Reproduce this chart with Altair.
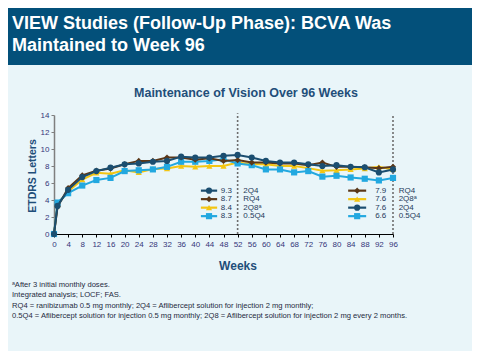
import altair as alt
import pandas as pd

# ---------------- data ----------------
weeks = [0, 1, 4, 8, 12, 16, 20, 24, 28, 32, 36, 40, 44, 48, 52,
         56, 60, 64, 68, 72, 76, 80, 84, 88, 92, 96]
val_2q4 = [0, 3.3, 5.2, 6.7, 7.4, 7.8, 8.2, 8.3, 8.5, 8.6, 9.1, 9.0, 9.0, 9.2, 9.3,
           9.0, 8.6, 8.4, 8.4, 8.2, 8.0, 8.1, 7.9, 7.85, 7.25, 7.6]
val_rq4 = [0, 3.2, 5.4, 6.9, 7.45, 7.7, 8.2, 8.6, 8.6, 9.0, 9.0, 8.75, 8.9, 8.6, 8.7,
           8.4, 8.4, 8.3, 8.3, 8.1, 8.4, 7.9, 7.9, 7.85, 7.75, 7.9]
val_2q8 = [0, 3.5, 5.0, 6.4, 7.2, 7.1, 7.5, 7.25, 7.65, 7.7, 8.0, 7.9, 8.0, 8.0, 8.4,
           8.2, 8.2, 8.0, 8.0, 7.75, 7.45, 7.5, 7.6, 7.7, 7.9, 7.6]
val_05q4 = [0, 3.7, 4.8, 5.7, 6.35, 6.6, 7.4, 7.5, 7.6, 7.9, 8.5, 8.5, 8.6, 8.8, 8.3,
            8.1, 7.6, 7.6, 7.25, 7.4, 6.75, 6.85, 6.65, 6.5, 6.3, 6.6]

series_names = ["2Q4", "RQ4", "2Q8", "0.5Q4"]
series_labels = ["2Q4", "RQ4", "2Q8\u1d43", "0.5Q4"]
series_colors = ["#1b4e70", "#5a3718", "#f3c512", "#22a8e0"]
series_shapes = ["circle", "diamond", "triangle-up", "square"]
series_values = [val_2q4, val_rq4, val_2q8, val_05q4]

# legend at week 52 and week 96
legend_w52_series = ["2Q4", "RQ4", "2Q8", "0.5Q4"]
legend_w52_values = ["9.3", "8.7", "8.4", "8.3"]
legend_w96_series = ["RQ4", "2Q8", "2Q4", "0.5Q4"]
legend_w96_values = ["7.9", "7.6", "7.6", "6.6"]
legend_rows_y = [5.1, 4.1, 3.1, 2.1]

x_ticks = list(range(0, 97, 4))
y_ticks = list(range(0, 15, 2))

header_text = "VIEW Studies (Follow-Up Phase): BCVA Was\nMaintained to Week 96"
chart_title = "Maintenance of Vision Over 96 Weeks"
y_title = "ETDRS Letters"
x_title = "Weeks"
footnotes = ("\u1d43After 3 initial monthly  doses.\n"
             "Integrated analysis; LOCF; FAS.\n"
             "RQ4  = ranibizumab 0.5  mg monthly;  2Q4  = Aflibercept solution  for injection  2 mg monthly;\n"
             "0.5Q4  = Aflibercept solution  for  injection 0.5  mg monthly;  2Q8 = Aflibercept solution  for injection  2 mg every  2 months.")

FONT = "Liberation Sans"
NAVY_TXT = "#1f4e79"
TICK_TXT = "#35357a"

# ---------------- frames ----------------
rows = []
for name, vals in zip(series_names, series_values):
    for w, v in zip(weeks, vals):
        rows.append({"series": name, "week": w, "value": v})
df = pd.DataFrame(rows)

label_of = dict(zip(series_names, series_labels))
leg_rows = []
for s, v, yy in zip(legend_w52_series, legend_w52_values, legend_rows_y):
    leg_rows.append({"series": s, "x1": 41.6, "x2": 46.2, "xm": 43.9, "xv": 50.4,
                     "xl": 53.6, "y": yy, "val": v, "label": label_of[s]})
for s, v, yy in zip(legend_w96_series, legend_w96_values, legend_rows_y):
    leg_rows.append({"series": s, "x1": 83.3, "x2": 88.4, "xm": 85.85, "xv": 94.1,
                     "xl": 97.6, "y": yy, "val": v, "label": label_of[s]})
leg = pd.DataFrame(leg_rows)

color_scale = alt.Scale(domain=series_names, range=series_colors)
shape_scale = alt.Scale(domain=series_names, range=series_shapes)

xs = alt.Scale(domain=[0, 96], nice=False, zero=False)
ys = alt.Scale(domain=[0, 14], nice=False)

x_axis = alt.Axis(values=x_ticks, title=None, grid=False, domainColor="#000000",
                  domainWidth=1.2, tickColor="#000000", tickSize=3, labelFont=FONT,
                  labelFontSize=8, labelColor=TICK_TXT, labelPadding=3, labelFlush=False,
                  labelOverlap=False, labelBound=False)
y_axis = alt.Axis(values=y_ticks, title=None, grid=False, domainColor="#7f7f7f",
                  domainWidth=1.5, tickColor="#7f7f7f", tickSize=3, labelFont=FONT,
                  labelFontSize=8, labelColor=TICK_TXT, labelPadding=2,
                  labelOverlap=False, labelFlush=False, labelBound=False)


def X(field):
    return alt.X(field, scale=xs, axis=x_axis)


def Y(field):
    return alt.Y(field, scale=ys, axis=y_axis)


one = pd.DataFrame({"a": [0]})

# header band
header_rect = alt.Chart(one).mark_rect(color="#03507a").encode(
    x=alt.value(-46), x2=alt.value(418), y=alt.value(-107), y2=alt.value(-50))
header = alt.Chart(one).mark_text(
    text=header_text, lineBreak="\n", lineHeight=22.5, font=FONT, fontSize=18,
    fontWeight="bold", color="white", align="left", baseline="alphabetic").encode(
    x=alt.value(-42), y=alt.value(-86.5))

title = alt.Chart(one).mark_text(
    text=chart_title, font=FONT, fontSize=12.5, fontWeight="bold", color=NAVY_TXT,
    align="center", baseline="alphabetic").encode(x=alt.value(192), y=alt.value(-18.5))

ytitle = alt.Chart(one).mark_text(
    text=y_title, font=FONT, fontSize=10.5, fontWeight="bold", color=NAVY_TXT,
    align="center", baseline="middle", angle=270).encode(x=alt.value(-21), y=alt.value(61))

xtitle = alt.Chart(one).mark_text(
    text=x_title, font=FONT, fontSize=12, fontWeight="bold", color=NAVY_TXT,
    align="center", baseline="middle").encode(x=alt.value(184), y=alt.value(151))

foot = alt.Chart(one).mark_text(
    text=footnotes, lineBreak="\n", lineHeight=10.4, font=FONT, fontSize=7.6,
    color="#1e2a40", align="left", baseline="middle").encode(
    x=alt.value(-42), y=alt.value(170))

# dotted reference lines
ref_df = pd.DataFrame({"week": [52, 96], "top": [14.2, 14.0], "bot": [0, 0]})
refs = alt.Chart(ref_df).mark_rule(color="#6e6e6e", strokeWidth=1.6,
                                   strokeDash=[2, 2]).encode(
    x=X("week:Q"), y=Y("bot:Q"), y2="top:Q")

# series
draw_order = ["2Q8", "0.5Q4", "RQ4", "2Q4"]
series_layers = []
for name in draw_order:
    i = series_names.index(name)
    base = alt.Chart(df).transform_filter(alt.datum.series == name)
    ln = base.mark_line(color=series_colors[i], strokeWidth=2).encode(
        x=X("week:Q"), y=Y("value:Q"))
    pt = base.mark_point(shape=series_shapes[i], filled=True, size=38,
                         color=series_colors[i], opacity=1).encode(
        x=X("week:Q"), y=Y("value:Q"))
    series_layers += [ln, pt]

# custom legends
leg_base = alt.Chart(leg)
leg_line = leg_base.mark_rule(strokeWidth=2.2).encode(
    x=X("x1:Q"), x2="x2:Q", y=Y("y:Q"),
    color=alt.Color("series:N", scale=color_scale, legend=None))
leg_pt = leg_base.mark_point(filled=True, size=38, opacity=1).encode(
    x=X("xm:Q"), y=Y("y:Q"),
    color=alt.Color("series:N", scale=color_scale, legend=None),
    shape=alt.Shape("series:N", scale=shape_scale, legend=None))
leg_val = leg_base.mark_text(font=FONT, fontSize=8, color="#1f3a5a", align="right",
                             baseline="middle").encode(
    x=X("xv:Q"), y=Y("y:Q"), text="val:N")
leg_lab = leg_base.mark_text(font=FONT, fontSize=8, color="#1f3a5a", align="left",
                             baseline="middle").encode(
    x=X("xl:Q"), y=Y("y:Q"), text="label:N")

chart = alt.layer(
    refs, header_rect, header, title, ytitle, xtitle, foot,
    *series_layers, leg_line, leg_pt, leg_val, leg_lab
).properties(
    width=339, height=119,
    autosize=alt.AutoSizeParams(type="none"),
    padding={"left": 46, "top": 107, "right": 79, "bottom": 117},
    background="#e9f5f9",
).configure_view(stroke=None).configure_axis(labelOverlap=False)

chart.save("out.html", embed_options={"renderer": "svg", "actions": False})
